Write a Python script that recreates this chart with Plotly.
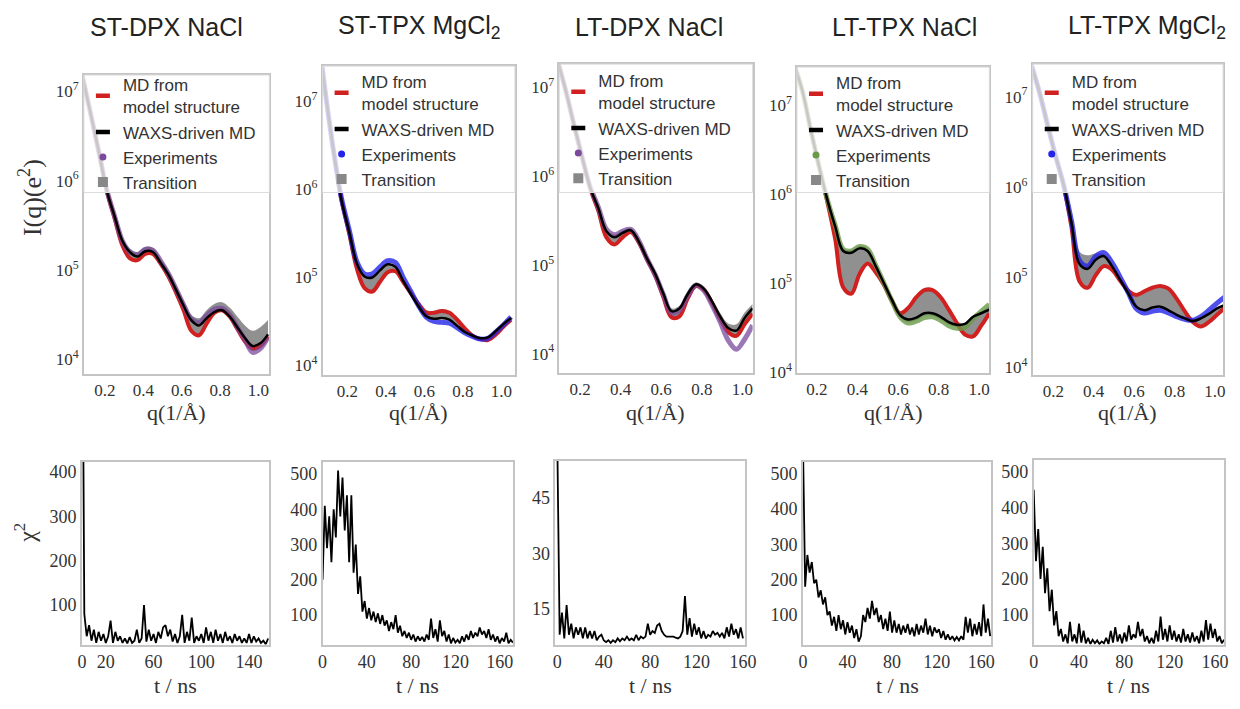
import plotly.graph_objects as go

# ---------------- data ----------------
panel_titles = ["ST-DPX NaCl", "ST-TPX MgCl<sub>2</sub>", "LT-DPX NaCl",
                "LT-TPX NaCl", "LT-TPX MgCl<sub>2</sub>"]

q_inv_A = [0.07, 0.09, 0.13, 0.17, 0.21, 0.25, 0.29, 0.33, 0.37, 0.41, 0.45, 0.49, 0.53,
           0.57, 0.61, 0.65, 0.69, 0.73, 0.77, 0.81, 0.85, 0.89, 0.93, 0.97, 1.01, 1.05]

# log10 I(q)
waxs_st_dpx_nacl = [7.29, 7.09, 6.70, 6.30, 5.88, 5.60, 5.33, 5.20, 5.15, 5.21, 5.20, 5.08, 4.95, 4.78, 4.60, 4.44, 4.38, 4.46, 4.53, 4.55, 4.48, 4.36, 4.24, 4.15, 4.18, 4.28]
md_st_dpx_nacl = [7.29, 7.09, 6.70, 6.30, 5.88, 5.58, 5.28, 5.13, 5.11, 5.18, 5.18, 5.07, 4.93, 4.75, 4.55, 4.32, 4.27, 4.40, 4.52, 4.55, 4.48, 4.34, 4.20, 4.12, 4.15, 4.26]
exp_st_dpx_nacl = [7.29, 7.09, 6.70, 6.30, 5.89, 5.60, 5.33, 5.20, 5.17, 5.23, 5.22, 5.10, 4.96, 4.79, 4.61, 4.45, 4.41, 4.49, 4.56, 4.57, 4.50, 4.36, 4.22, 4.08, 4.12, 4.25]
trans_hi_st_dpx_nacl = [7.30, 7.10, 6.72, 6.32, 5.91, 5.62, 5.36, 5.24, 5.20, 5.26, 5.25, 5.13, 5.00, 4.83, 4.66, 4.50, 4.46, 4.55, 4.62, 4.64, 4.58, 4.48, 4.38, 4.32, 4.36, 4.44]
trans_lo_st_dpx_nacl = [7.28, 7.08, 6.69, 6.29, 5.87, 5.57, 5.27, 5.12, 5.10, 5.17, 5.17, 5.06, 4.92, 4.74, 4.54, 4.31, 4.26, 4.39, 4.51, 4.54, 4.47, 4.33, 4.19, 4.11, 4.14, 4.25]

waxs_st_tpx_mgcl2 = [7.39, 7.04, 6.42, 5.88, 5.52, 5.16, 5.01, 5.00, 5.08, 5.15, 5.12, 4.96, 4.81, 4.67, 4.56, 4.53, 4.54, 4.52, 4.45, 4.38, 4.34, 4.31, 4.32, 4.39, 4.47, 4.54]
md_st_tpx_mgcl2 = [7.39, 7.04, 6.42, 5.88, 5.50, 5.10, 4.88, 4.84, 4.95, 5.06, 5.07, 4.95, 4.82, 4.70, 4.60, 4.60, 4.62, 4.60, 4.52, 4.42, 4.34, 4.30, 4.29, 4.35, 4.44, 4.52]
exp_st_tpx_mgcl2 = [7.39, 7.04, 6.42, 5.90, 5.54, 5.18, 5.04, 5.04, 5.12, 5.19, 5.17, 5.00, 4.84, 4.68, 4.55, 4.50, 4.49, 4.48, 4.43, 4.37, 4.33, 4.30, 4.31, 4.38, 4.46, 4.55]
trans_hi_st_tpx_mgcl2 = [7.40, 7.05, 6.43, 5.90, 5.53, 5.17, 5.02, 5.01, 5.09, 5.16, 5.13, 4.98, 4.84, 4.72, 4.63, 4.62, 4.64, 4.62, 4.54, 4.44, 4.36, 4.32, 4.33, 4.40, 4.48, 4.55]
trans_lo_st_tpx_mgcl2 = [7.38, 7.03, 6.41, 5.87, 5.49, 5.09, 4.87, 4.83, 4.94, 5.05, 5.06, 4.94, 4.80, 4.66, 4.55, 4.52, 4.53, 4.51, 4.44, 4.37, 4.33, 4.29, 4.28, 4.34, 4.43, 4.51]

waxs_lt_dpx_nacl = [7.47, 7.30, 6.96, 6.58, 6.22, 5.87, 5.64, 5.38, 5.31, 5.36, 5.39, 5.26, 5.07, 4.90, 4.68, 4.48, 4.51, 4.67, 4.78, 4.73, 4.59, 4.42, 4.29, 4.26, 4.40, 4.51]
md_lt_dpx_nacl = [7.47, 7.30, 6.96, 6.58, 6.21, 5.86, 5.61, 5.31, 5.23, 5.31, 5.37, 5.25, 5.06, 4.88, 4.64, 4.41, 4.42, 4.62, 4.76, 4.72, 4.57, 4.39, 4.24, 4.20, 4.33, 4.45]
exp_lt_dpx_nacl = [7.47, 7.30, 6.96, 6.58, 6.22, 5.88, 5.65, 5.40, 5.34, 5.38, 5.40, 5.27, 5.07, 4.89, 4.67, 4.46, 4.49, 4.65, 4.77, 4.71, 4.55, 4.36, 4.15, 4.05, 4.16, 4.32]
trans_hi_lt_dpx_nacl = [7.48, 7.31, 6.98, 6.60, 6.24, 5.89, 5.66, 5.40, 5.34, 5.39, 5.41, 5.28, 5.09, 4.92, 4.70, 4.51, 4.54, 4.70, 4.80, 4.76, 4.62, 4.46, 4.34, 4.33, 4.46, 4.56]
trans_lo_lt_dpx_nacl = [7.46, 7.29, 6.95, 6.57, 6.20, 5.85, 5.60, 5.30, 5.22, 5.30, 5.36, 5.24, 5.05, 4.87, 4.63, 4.40, 4.41, 4.61, 4.75, 4.71, 4.56, 4.38, 4.23, 4.19, 4.32, 4.44]

waxs_lt_tpx_nacl = [7.60, 7.45, 7.15, 6.72, 6.32, 5.95, 5.64, 5.36, 5.34, 5.39, 5.36, 5.19, 5.00, 4.81, 4.64, 4.59, 4.61, 4.66, 4.66, 4.62, 4.56, 4.53, 4.54, 4.62, 4.66, 4.70]
md_lt_tpx_nacl = [7.60, 7.45, 7.15, 6.72, 6.32, 5.93, 5.50, 4.95, 4.88, 5.10, 5.22, 5.12, 4.98, 4.80, 4.66, 4.72, 4.84, 4.92, 4.92, 4.84, 4.70, 4.55, 4.42, 4.40, 4.52, 4.66]
exp_lt_tpx_nacl = [7.60, 7.45, 7.15, 6.72, 6.32, 5.95, 5.65, 5.38, 5.36, 5.41, 5.38, 5.20, 5.00, 4.80, 4.62, 4.55, 4.57, 4.61, 4.62, 4.58, 4.52, 4.49, 4.50, 4.60, 4.68, 4.76]
trans_hi_lt_tpx_nacl = [7.61, 7.46, 7.16, 6.73, 6.33, 5.96, 5.66, 5.39, 5.37, 5.42, 5.39, 5.21, 5.01, 4.82, 4.67, 4.73, 4.85, 4.93, 4.93, 4.85, 4.71, 4.57, 4.55, 4.63, 4.68, 4.74]
trans_lo_lt_tpx_nacl = [7.59, 7.44, 7.14, 6.71, 6.31, 5.92, 5.49, 4.94, 4.87, 5.09, 5.21, 5.11, 4.97, 4.79, 4.61, 4.56, 4.58, 4.63, 4.63, 4.59, 4.53, 4.50, 4.41, 4.39, 4.51, 4.65]

waxs_lt_tpx_mgcl2 = [7.51, 7.36, 7.06, 6.70, 6.35, 6.03, 5.60, 5.14, 5.09, 5.19, 5.23, 5.12, 4.97, 4.82, 4.67, 4.63, 4.66, 4.67, 4.63, 4.58, 4.54, 4.51, 4.54, 4.59, 4.65, 4.69]
md_lt_tpx_mgcl2 = [7.51, 7.36, 7.06, 6.70, 6.35, 6.02, 5.55, 4.95, 4.88, 5.02, 5.12, 5.08, 4.96, 4.85, 4.80, 4.84, 4.88, 4.90, 4.87, 4.76, 4.62, 4.50, 4.45, 4.50, 4.58, 4.66]
exp_lt_tpx_mgcl2 = [7.51, 7.36, 7.06, 6.70, 6.35, 6.03, 5.62, 5.18, 5.12, 5.23, 5.27, 5.16, 5.00, 4.83, 4.65, 4.60, 4.62, 4.63, 4.60, 4.56, 4.53, 4.52, 4.56, 4.63, 4.71, 4.78]
trans_hi_lt_tpx_mgcl2 = [7.52, 7.37, 7.07, 6.71, 6.36, 6.05, 5.66, 5.28, 5.24, 5.26, 5.25, 5.14, 5.00, 4.86, 4.80, 4.84, 4.88, 4.90, 4.87, 4.76, 4.63, 4.54, 4.55, 4.60, 4.66, 4.70]
trans_lo_lt_tpx_mgcl2 = [7.50, 7.35, 7.05, 6.69, 6.34, 6.01, 5.55, 4.95, 4.88, 5.02, 5.12, 5.08, 4.96, 4.82, 4.67, 4.63, 4.66, 4.67, 4.63, 4.58, 4.54, 4.50, 4.45, 4.50, 4.58, 4.66]

# chi^2 time series (every 2 ns)
chi2_st_dpx_nacl = [1000, 80, 30, 55, 20, 45, 15, 40, 20, 35, 15, 30, 65, 15, 40, 20, 30, 15, 25, 14,
                    28, 15, 20, 45, 15, 25, 100, 18, 45, 20, 35, 15, 40, 25, 50, 55, 30, 45, 18, 35,
                    15, 30, 78, 15, 40, 20, 72, 15, 30, 20, 35, 15, 50, 20, 40, 15, 45, 20, 35, 15,
                    40, 20, 30, 15, 35, 20, 30, 15, 25, 15, 35, 15, 30, 18, 25, 15, 20, 12, 25]
chi2_st_tpx_mgcl2 = [200, 410, 290, 380, 250, 400, 320, 510, 380, 490, 340, 440, 250, 440, 220, 300, 160, 210, 110, 140,
                     90, 120, 85, 110, 80, 105, 75, 100, 70, 85, 55, 80, 60, 100, 50, 70, 40, 55, 35, 50,
                     30, 45, 25, 40, 28, 38, 25, 45, 30, 90, 35, 60, 25, 85, 40, 55, 25, 45, 20, 35,
                     22, 30, 20, 40, 25, 45, 30, 55, 35, 50, 40, 65, 45, 55, 35, 60, 30, 45, 25, 40,
                     20, 35, 25, 50, 20, 30, 22]
chi2_lt_dpx_nacl = [60, 8, 14, 7, 16, 8, 11, 7, 10, 8, 10, 7, 10, 7, 9, 7, 9, 6.5, 7.5, 8,
                    6.5, 6, 6.5, 5.8, 6.5, 6, 7, 6.2, 7, 6.5, 7.5, 6.5, 7, 6.5, 8, 6.5, 7.5, 7, 7.5, 11,
                    8, 9, 8.5, 10.5, 11, 9, 8, 7.5, 7.5, 7.5, 7.5, 7.2, 7, 7.5, 9, 18.5, 8, 12.5, 7.5, 11,
                    8, 10, 7, 9, 7, 8, 7.5, 9, 8, 8.5, 7.5, 8.5, 7, 10, 7.5, 11, 8, 9.5, 7, 10, 7]
chi2_lt_tpx_nacl = [600, 180, 270, 220, 250, 190, 200, 150, 170, 130, 150, 100, 110, 70, 95, 55, 100, 60, 85, 45,
                    80, 50, 70, 35, 60, 25, 40, 100, 80, 120, 90, 140, 100, 120, 80, 100, 60, 90, 55, 110,
                    50, 85, 50, 75, 45, 70, 50, 75, 45, 65, 40, 75, 45, 70, 50, 90, 45, 70, 40, 65,
                    50, 60, 35, 55, 30, 45, 30, 40, 28, 38, 28, 40, 30, 95, 50, 90, 40, 75, 45, 80,
                    40, 130, 50, 90, 40]
chi2_lt_tpx_mgcl2 = [450, 250, 340, 200, 290, 160, 230, 110, 170, 70, 110, 40, 60, 25, 45, 20, 80, 25, 45, 20,
                     75, 22, 55, 20, 35, 18, 30, 20, 28, 18, 25, 20, 35, 18, 55, 22, 65, 25, 45, 20,
                     50, 25, 70, 30, 45, 35, 80, 40, 60, 25, 40, 20, 35, 20, 55, 25, 95, 30, 60, 25,
                     70, 30, 55, 25, 45, 22, 60, 25, 45, 22, 50, 25, 40, 20, 55, 25, 85, 30, 75, 35,
                     60, 25, 40, 20, 30]

x_ticks_q = [0.2, 0.4, 0.6, 0.8, 1.0]
x_ticklabels_q = ["0.2", "0.4", "0.6", "0.8", "1.0"]
y_ticks_I = [1e4, 1e5, 1e6, 1e7]
y_ticklabels_I = ["10<sup>4</sup>", "10<sup>5</sup>", "10<sup>6</sup>", "10<sup>7</sup>"]
t_ticks = [[0, 20, 60, 100, 140], [0, 40, 80, 120, 160], [0, 40, 80, 120, 160],
           [0, 40, 80, 120, 160], [0, 40, 80, 120, 160]]
chi_ticks = [[100, 200, 300, 400], [100, 200, 300, 400, 500], [15, 30, 45],
             [100, 200, 300, 400, 500], [100, 200, 300, 400, 500]]

# ---------------- assembly ----------------
waxs = [waxs_st_dpx_nacl, waxs_st_tpx_mgcl2, waxs_lt_dpx_nacl, waxs_lt_tpx_nacl, waxs_lt_tpx_mgcl2]
md = [md_st_dpx_nacl, md_st_tpx_mgcl2, md_lt_dpx_nacl, md_lt_tpx_nacl, md_lt_tpx_mgcl2]
exp = [exp_st_dpx_nacl, exp_st_tpx_mgcl2, exp_lt_dpx_nacl, exp_lt_tpx_nacl, exp_lt_tpx_mgcl2]
t_hi = [trans_hi_st_dpx_nacl, trans_hi_st_tpx_mgcl2, trans_hi_lt_dpx_nacl, trans_hi_lt_tpx_nacl, trans_hi_lt_tpx_mgcl2]
t_lo = [trans_lo_st_dpx_nacl, trans_lo_st_tpx_mgcl2, trans_lo_lt_dpx_nacl, trans_lo_lt_tpx_nacl, trans_lo_lt_tpx_mgcl2]
chi2 = [chi2_st_dpx_nacl, chi2_st_tpx_mgcl2, chi2_lt_dpx_nacl, chi2_lt_tpx_nacl, chi2_lt_tpx_mgcl2]

exp_colors = ["#7a4a9c", "#2424e8", "#7a4a9c", "#6a9a48", "#2424e8"]
exp_colors_a = ["rgba(122,74,156,0.75)", "rgba(36,36,232,0.8)", "rgba(122,74,156,0.75)",
                "rgba(106,154,72,0.8)", "rgba(36,36,232,0.8)"]
RED = "#d02020"
GREY_FILL = "rgba(125,125,125,0.85)"

W, H = 1240, 709
top_boxes = [(80, 268, 76, 379), (322, 517, 67, 380), (562, 758, 65, 378),
             (803, 998, 68, 378), (1042, 1235, 65, 380)]
bot_boxes = [(78, 268, 468, 653), (322, 515, 468, 653), (558, 750, 467, 653),
             (809, 1000, 468, 653), (1043, 1236, 466, 653)]
title_cx = [164, 420, 653, 912, 1158]
legend_top = [68, 65, 64, 66, 65]
top_xr = [[0.09, 1.057], [0.072, 1.07], [0.098, 1.05], [0.102, 1.05], [0.098, 1.04]]
top_yr = [[3.835, 7.18], [3.89, 7.40], [3.78, 7.26], [3.985, 7.43], [3.91, 7.36]]
bot_xr = [[0, 157], [0, 172], [-1.7, 161.5], [0, 169], [0, 168]]
bot_yr = [[11, 422], [16, 534], [5.3, 55], [16, 533], [16, 533]]

fig = go.Figure()
layout = dict(width=W, height=H, margin=dict(l=0, r=0, t=0, b=0), autosize=False,
              paper_bgcolor="white", plot_bgcolor="white", showlegend=True)

frame = dict(showline=True, linecolor="#c4c4c4", linewidth=1.5, mirror=True,
             showgrid=False, zeroline=False, ticks="", ticklen=0)
serif = "Liberation Serif, Times New Roman, serif"
sans = "Liberation Sans, Arial, sans-serif"

annotations = []
shapes = []

for i in range(5):
    n = i + 1
    xa = "x" if n == 1 else f"x{n}"
    ya = "y" if n == 1 else f"y{n}"
    lg = "legend" if n == 1 else f"legend{n}"
    L, R, T, B = top_boxes[i]
    layout["xaxis" if n == 1 else f"xaxis{n}"] = dict(
        frame, domain=[L / W, R / W], anchor=ya, range=top_xr[i],
        tickvals=x_ticks_q, ticktext=x_ticklabels_q,
        tickfont=dict(family=serif, size=17, color="#333"))
    layout["yaxis" if n == 1 else f"yaxis{n}"] = dict(
        frame, domain=[1 - B / H, 1 - T / H], anchor=xa, type="log", range=top_yr[i],
        tickvals=y_ticks_I, ticktext=y_ticklabels_I,
        tickfont=dict(family=serif, size=17, color="#333"))

    common = dict(xaxis=xa, yaxis=ya, legend=lg)
    fig.add_trace(go.Scatter(x=q_inv_A, y=[10 ** v for v in t_lo[i]], mode="lines",
                             line=dict(width=0, shape="spline"), showlegend=False,
                             hoverinfo="skip", **common))
    fig.add_trace(go.Scatter(x=q_inv_A, y=[10 ** v for v in t_hi[i]], mode="lines",
                             line=dict(width=0, shape="spline"), fill="tonexty",
                             fillcolor=GREY_FILL, showlegend=False, name="Transition", **common))
    fig.add_trace(go.Scatter(x=q_inv_A, y=[10 ** v for v in md[i]], mode="lines",
                             line=dict(color=RED, width=4, shape="spline"),
                             showlegend=False, name="MD from model structure", **common))
    fig.add_trace(go.Scatter(x=q_inv_A, y=[10 ** v for v in exp[i]], mode="lines",
                             line=dict(color=exp_colors_a[i], width=5, shape="spline"),
                             showlegend=False, name="Experiments", **common))
    fig.add_trace(go.Scatter(x=q_inv_A, y=[10 ** v for v in waxs[i]], mode="lines",
                             line=dict(color="black", width=2.5, shape="spline"),
                             showlegend=False, name="WAXS-driven MD", **common))
    # legend entries (symbols only)
    fig.add_trace(go.Scatter(x=[None], y=[None], mode="markers", name="MD from<br>model structure",
                             marker=dict(symbol="line-ew", size=10, line=dict(color=RED, width=4.5)),
                             legendrank=1, **common))
    fig.add_trace(go.Scatter(x=[None], y=[None], mode="markers", name="WAXS-driven MD",
                             marker=dict(symbol="line-ew", size=10, line=dict(color="black", width=4.5)),
                             legendrank=2, **common))
    fig.add_trace(go.Scatter(x=[None], y=[None], mode="markers", name="Experiments",
                             marker=dict(color=exp_colors[i], size=7),
                             legendrank=3, **common))
    fig.add_trace(go.Scatter(x=[None], y=[None], mode="markers", name="Transition",
                             marker=dict(color="#888888", size=10, symbol="square"),
                             legendrank=4, **common))

    layout[lg] = dict(x=(L - 1) / W, y=1 - legend_top[i] / H, xanchor="left", yanchor="top",
                      traceorder="normal",
                      bgcolor="rgba(0,0,0,0)", borderwidth=0, tracegroupgap=0, itemwidth=30,
                      font=dict(family=sans, size=17, color="#333"))
    shapes.append(dict(type="rect", xref="paper", yref="paper", x0=L / W, x1=R / W,
                       y0=1 - 195 / H, y1=1 - T / H, fillcolor="rgba(255,255,255,0.78)",
                       line=dict(color="#dcdcdc", width=1), layer="above"))

    annotations.append(dict(text=panel_titles[i], x=title_cx[i] / W, y=1 - 27 / H,
                            xref="paper", yref="paper", showarrow=False,
                            xanchor="center", yanchor="middle",
                            font=dict(family=sans, size=25, color="#222")))
    annotations.append(dict(text="q(1/Å)", x=(L + R) / 2 / W, y=1 - 418 / H,
                            xref="paper", yref="paper", showarrow=False,
                            xanchor="center", yanchor="middle",
                            font=dict(family=serif, size=22, color="#333")))

    # bottom panel
    m = n + 5
    xb, yb = f"x{m}", f"y{m}"
    L2, R2, T2, B2 = bot_boxes[i]
    layout[f"xaxis{m}"] = dict(frame, domain=[L2 / W, R2 / W], anchor=yb, range=bot_xr[i],
                               tickvals=t_ticks[i], ticktext=[str(v) for v in t_ticks[i]],
                               tickfont=dict(family=serif, size=18, color="#333"))
    layout[f"yaxis{m}"] = dict(frame, domain=[1 - B2 / H, 1 - T2 / H], anchor=xb, range=bot_yr[i],
                               tickvals=chi_ticks[i], ticktext=[str(v) for v in chi_ticks[i]],
                               tickfont=dict(family=serif, size=18, color="#333"))
    t_ns = list(range(0, 2 * len(chi2[i]), 2))
    fig.add_trace(go.Scatter(x=t_ns, y=chi2[i], mode="lines",
                             line=dict(color="black", width=1.8),
                             showlegend=False, xaxis=xb, yaxis=yb))
    annotations.append(dict(text="t / ns", x=(L2 + R2) / 2 / W, y=1 - 694 / H,
                            xref="paper", yref="paper", showarrow=False,
                            xanchor="center", yanchor="middle",
                            font=dict(family=serif, size=22, color="#333")))

annotations.append(dict(text="I(q)(e<sup>2</sup>)", x=26 / W, y=1 - 200 / H, xref="paper",
                        yref="paper", showarrow=False, textangle=-90,
                        xanchor="center", yanchor="middle",
                        font=dict(family=serif, size=26, color="#333")))
annotations.append(dict(text="χ<sup>2</sup>", x=20 / W, y=1 - 540 / H, xref="paper",
                        yref="paper", showarrow=False, textangle=-90,
                        xanchor="center", yanchor="middle",
                        font=dict(family=serif, size=24, color="#333")))

layout["annotations"] = annotations
layout["shapes"] = shapes
fig.update_layout(**layout)
fig.write_html("out.html", config={"displayModeBar": False, "staticPlot": False},
               post_script="document.body.style.margin='0px';document.body.style.padding='0px';"
                           "document.body.style.overflow='hidden';")
